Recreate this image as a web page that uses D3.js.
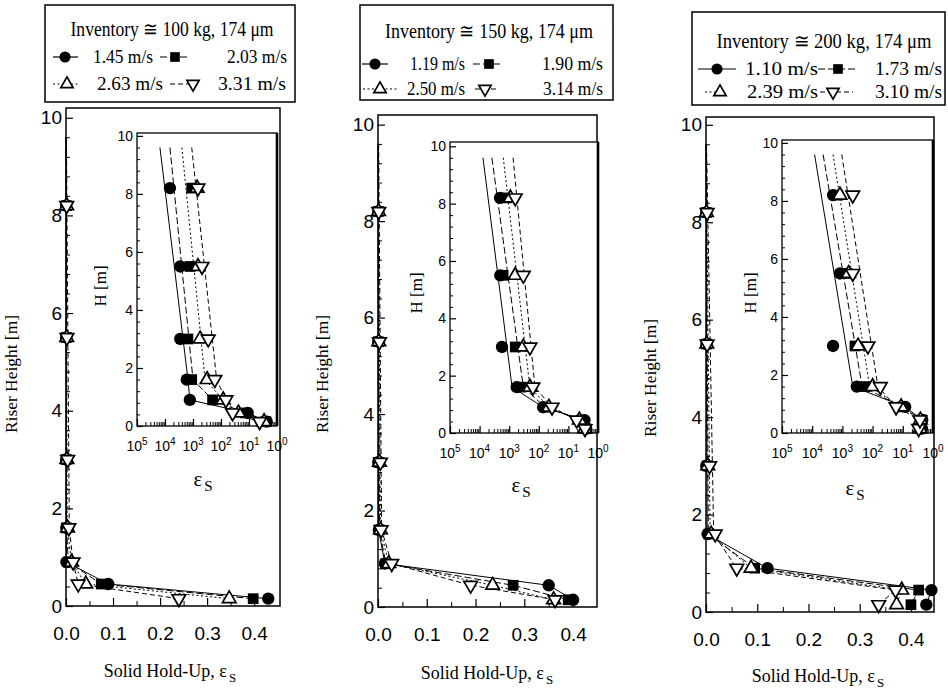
<!DOCTYPE html>
<html>
<head>
<meta charset="utf-8">
<script src="https://cdn.jsdelivr.net/npm/d3@7"></script>
<style>
  body { margin: 0; background: #fff; }
  svg { display: block; }
</style>
</head>
<body>
<svg id="chart" width="948" height="693"></svg>
<script>
// ---- data ----
const heights = [0.15, 0.45, 0.9, 1.6, 3.0, 5.5, 8.2];   // riser height of each probe [m]
const fitHeights = [9.6, 1.6];                           // ends of the fitted lines in the dilute zone
const inventories = ["100", "150", "200"];

const velocities100 = ["1.45", "2.03", "2.63", "3.31"];
const velocities150 = ["1.19", "1.90", "2.50", "3.14"];
const velocities200 = ["1.10", "1.73", "2.39", "3.10"];

// solid hold-up per series, same order as heights
const holdup100 = [
  [0.43, 0.09, 7.7e-4, 6e-4, 3.5e-4, 3.5e-4, 1.5e-4],
  [0.398, 0.075, 5e-3, 9e-4, 6.6e-4, 7.8e-4, 9e-4],
  [0.347, 0.042, 0.012, 3.2e-3, 1.8e-3, 1.5e-3, 1.4e-3],
  [0.24, 0.026, 0.015, 6e-3, 3.5e-3, 2.1e-3, 1.5e-3]
];
const holdup150 = [
  [0.40, 0.35, 0.014, 1.8e-3, 5.7e-4, 5e-4, 4.9e-4],
  [0.39, 0.277, 0.016, 2.5e-3, 1.6e-3, 6.2e-4, 8e-4],
  [0.36, 0.235, 0.022, 5e-3, 3e-3, 1.6e-3, 1.1e-3],
  [0.363, 0.19, 0.028, 6.3e-3, 5e-3, 3e-3, 1.6e-3]
];
const holdup200 = [
  [0.43, 0.44, 0.12, 3e-3, 4.9e-4, 8.3e-4, 4.9e-4],
  [0.40, 0.415, 0.095, 5.6e-3, 2.6e-3, 1.4e-3, 7e-4],
  [0.372, 0.382, 0.088, 0.01, 3.3e-3, 1.6e-3, 8.3e-4],
  [0.337, 0.37, 0.06, 0.018, 7e-3, 2.2e-3, 2.2e-3]
];

// hold-up of the fitted lines at fitHeights (top, knee)
const fitTop100 = [6.6e-5, 1.5e-4, 4e-4, 9e-4];
const fitKnee100 = [6.6e-4, 1e-3, 2.7e-3, 7e-3];
const fitTop150 = [1.3e-4, 2.6e-4, 6.3e-4, 1.35e-3];
const fitKnee150 = [1.25e-3, 3e-3, 5e-3, 7.4e-3];
const fitTop200 = [1.2e-4, 2.3e-4, 4.9e-4, 9.5e-4];
const fitKnee200 = [2.2e-3, 4.5e-3, 8e-3, 0.015];

const heightTicks = [0, 2, 4, 6, 8, 10];
const holdupTicks = [0, 0.1, 0.2, 0.3, 0.4];
const logTicks = [1e-5, 1e-4, 1e-3, 1e-2, 1e-1, 1];
const logTickExp = ["5", "4", "3", "2", "1", "0"];   // printed without minus, as in the figure

// ---- styles ----
const SERIF = "'Liberation Serif', 'Times New Roman', serif";
const SANS = "'Liberation Sans', Arial, sans-serif";
const markerTypes = ["circle", "square", "triangle", "triangleDown"];
const dashes = [null, "7,3", "2,2.5", "5,3"];

// ---- layout of the three panels (pixels) ----
const layouts = [
  {
    main: { x0: 66, x1: 280, xMax: 0.455, y0: 606, y1: 108, yMax: 10.2 },
    inset: { x0: 137, x1: 277, y0: 426, y1: 133, yMax: 10.1 },
    box: [45, 5, 295, 102], title: { x: 172, y: 36, len: 203 }, rows: [63, 90],
    items: [
      { l: [53, 78], m: 65, t: 93, len: 60 }, { l: [160, 190], m: 175, t: 227, len: 60 },
      { l: [53, 78], m: 67, t: 97, len: 66 }, { l: [170, 198], m: 193, t: 218, len: 68 }
    ],
    yTitle: { x: 17, y: 374 }, hTitle: { x: 106, y: 286 }, xTitle: { x: 170, y: 677 }, epsLabel: { x: 203, y: 486 }
  },
  {
    main: { x0: 378, x1: 597, xMax: 0.449, y0: 607, y1: 115, yMax: 10.2 },
    inset: { x0: 450, x1: 598, y0: 433, y1: 142, yMax: 10.15 },
    box: [360, 5, 613, 100], title: { x: 489, y: 38, len: 208 }, rows: [70, 95],
    items: [
      { l: [362, 388], m: 375, t: 410, len: 55 }, { l: [473, 500], m: 489, t: 542, len: 61 },
      { l: [363, 397], m: 380, t: 407, len: 58 }, { l: [475, 496], m: 485, t: 543, len: 60 }
    ],
    yTitle: { x: 328, y: 374 }, hTitle: { x: 422, y: 293 }, xTitle: { x: 487, y: 679 }, epsLabel: { x: 521, y: 492 }
  },
  {
    main: { x0: 706, x1: 934, xMax: 0.445, y0: 612, y1: 117, yMax: 10.16 },
    inset: { x0: 782, x1: 933, y0: 433, y1: 140, yMax: 10.1 },
    box: [692, 12, 945, 105], title: { x: 824, y: 48, len: 215 }, rows: [75, 98],
    items: [
      { l: [698, 736], m: 717, t: 745, len: 73 }, { l: [818, 856], m: 838, t: 875, len: 67 },
      { l: [705, 727], m: 720, t: 747, len: 71 }, { l: [820, 853], m: 833, t: 875, len: 67 }
    ],
    yTitle: { x: 656, y: 378 }, hTitle: { x: 756, y: 293 }, xTitle: { x: 818, y: 682 }, epsLabel: { x: 855, y: 495 }
  }
];

const panels = [
  { inv: inventories[0], vel: velocities100, eps: holdup100, top: fitTop100, knee: fitKnee100 },
  { inv: inventories[1], vel: velocities150, eps: holdup150, top: fitTop150, knee: fitKnee150 },
  { inv: inventories[2], vel: velocities200, eps: holdup200, top: fitTop200, knee: fitKnee200 }
];

const svg = d3.select("#chart");

function drawMarker(g, type, x, y, scale) {
  const s = scale || 1;
  let sym;
  if (type === "circle") sym = d3.symbol(d3.symbolCircle, 120 * s * s);
  else if (type === "square") sym = d3.symbol(d3.symbolSquare, 115 * s * s);
  else sym = d3.symbol(d3.symbolTriangle, 80 * s * s);
  const p = g.append("path")
    .attr("d", sym())
    .attr("transform", `translate(${x},${y})` + (type === "triangleDown" ? " rotate(180)" : ""));
  if (type === "circle" || type === "square") p.attr("fill", "#000");
  else p.attr("fill", "#fff").attr("stroke", "#000").attr("stroke-width", 1.7);
}

function seriesPath(p, s) {
  // fitted line in the dilute zone, then measured points below the knee
  return [
    [p.top[s], fitHeights[0]],
    [p.knee[s], fitHeights[1]],
    [p.eps[s][2], heights[2]],
    [p.eps[s][1], heights[1]],
    [p.eps[s][0], heights[0]]
  ];
}

function styleAxis(sel, family, size) {
  sel.attr("font-family", family).attr("font-size", size);
  sel.selectAll(".tick line").attr("stroke-width", 1.2);
  sel.selectAll(".tick text").attr("fill", "#000");
}

function minorRange(max, step, majorStep) {
  return d3.range(step, max, step).filter(v => Math.abs(v / majorStep - Math.round(v / majorStep)) > 1e-6);
}

// epsilon with a subscript S, as two separate texts placed side by side
function epsText(g, cx, y, prefix, size) {
  const main = g.append("text")
    .attr("y", y)
    .attr("font-family", SERIF).attr("font-size", size)
    .text(prefix + "\u03b5");
  const w = main.node().getComputedTextLength();
  const sub = g.append("text")
    .attr("y", y + 5)
    .attr("font-family", SERIF).attr("font-size", size * 0.72)
    .text("S");
  const ws = sub.node().getComputedTextLength();
  const x0 = cx - (w + ws + 2) / 2;
  main.attr("x", x0);
  sub.attr("x", x0 + w + 2);
}

function drawPanel(p, L) {
  const g = svg.append("g");

  // ---------- main plot ----------
  const x = d3.scaleLinear().domain([0, L.main.xMax]).range([L.main.x0, L.main.x1]);
  const y = d3.scaleLinear().domain([0, L.main.yMax]).range([L.main.y0, L.main.y1]);

  g.append("g")
    .attr("transform", `translate(${x(0)},0)`)
    .call(d3.axisLeft(y).tickValues(heightTicks).tickSize(-7).tickPadding(4).tickFormat(d3.format("d")))
    .call(s => s.select(".domain").remove())
    .call(s => styleAxis(s, SANS, 19));
  g.append("g")
    .attr("transform", `translate(${x(0)},0)`)
    .call(d3.axisLeft(y).tickValues(minorRange(10.01, 0.4, 2)).tickSize(-4).tickFormat(""))
    .call(s => s.select(".domain").remove());

  g.append("g")
    .attr("transform", `translate(0,${y(0)})`)
    .call(d3.axisBottom(x).tickValues(holdupTicks).tickSize(-8).tickPadding(21).tickFormat(d3.format(".1f")))
    .call(s => s.select(".domain").remove())
    .call(s => styleAxis(s, SANS, 19));
  g.append("g")
    .attr("transform", `translate(0,${y(0)})`)
    .call(d3.axisBottom(x).tickValues([0.05, 0.15, 0.25, 0.35]).tickSize(-5).tickFormat(""))
    .call(s => s.select(".domain").remove());

  g.append("rect")
    .attr("x", x(0)).attr("y", y(L.main.yMax))
    .attr("width", x(L.main.xMax) - x(0)).attr("height", y(0) - y(L.main.yMax))
    .attr("fill", "none").attr("stroke", "#000").attr("stroke-width", 1.5);

  const lineMain = d3.line().x(d => x(d[0])).y(d => y(d[1]));
  p.eps.forEach((e, s) => {
    g.append("path")
      .attr("d", lineMain(seriesPath(p, s)))
      .attr("fill", "none").attr("stroke", "#000").attr("stroke-width", 1)
      .attr("stroke-dasharray", dashes[s]);
  });
  p.eps.forEach((e, s) => {
    heights.forEach((h, i) => drawMarker(g, markerTypes[s], x(e[i]), y(h)));
  });

  // ---------- inset (log scale) ----------
  const xl = d3.scaleLog().domain([1e-5, 1]).range([L.inset.x0, L.inset.x1]);
  const yi = d3.scaleLinear().domain([0, L.inset.yMax]).range([L.inset.y0, L.inset.y1]);

  g.append("rect")
    .attr("x", xl(1e-5)).attr("y", yi(L.inset.yMax))
    .attr("width", xl(1) - xl(1e-5)).attr("height", yi(0) - yi(L.inset.yMax))
    .attr("fill", "#fff").attr("stroke", "#000").attr("stroke-width", 1.3);
  g.append("line")
    .attr("x1", xl(1)).attr("x2", xl(1)).attr("y1", yi(L.inset.yMax)).attr("y2", yi(0))
    .attr("stroke", "#000").attr("stroke-width", 2.6);

  g.append("g")
    .attr("transform", `translate(${xl(1e-5)},0)`)
    .call(d3.axisLeft(yi).tickValues(heightTicks).tickSize(-6).tickPadding(4).tickFormat(d3.format("d")))
    .call(s => s.select(".domain").remove())
    .call(s => styleAxis(s, SANS, 14));
  g.append("g")
    .attr("transform", `translate(${xl(1e-5)},0)`)
    .call(d3.axisLeft(yi).tickValues(minorRange(10.01, 0.4, 2)).tickSize(-3).tickFormat(""))
    .call(s => s.select(".domain").remove());

  const logMinor = [];
  d3.range(-5, 0).forEach(k => d3.range(2, 10).forEach(m => logMinor.push(m * Math.pow(10, k))));
  g.append("g")
    .attr("transform", `translate(0,${yi(0)})`)
    .call(d3.axisBottom(xl).tickValues(logTicks).tickSize(-7).tickFormat(""))
    .call(s => s.select(".domain").remove())
    .call(s => s.selectAll(".tick line").attr("stroke-width", 1.2));
  g.append("g")
    .attr("transform", `translate(0,${yi(0)})`)
    .call(d3.axisBottom(xl).tickValues(logMinor).tickSize(-4).tickFormat(""))
    .call(s => s.select(".domain").remove());

  const logLabels = g.append("g").attr("font-family", SANS).attr("font-size", 14);
  logTicks.forEach((v, i) => {
    const t = logLabels.append("text")
      .attr("x", xl(v)).attr("y", yi(0) + 25)
      .attr("text-anchor", "middle");
    t.append("tspan").text("10");
    t.append("tspan").attr("dy", -6).attr("font-size", 10).text(logTickExp[i]);
  });

  const lineInset = d3.line().x(d => xl(d[0])).y(d => yi(d[1]));
  p.eps.forEach((e, s) => {
    g.append("path")
      .attr("d", lineInset(seriesPath(p, s)))
      .attr("fill", "none").attr("stroke", "#000").attr("stroke-width", 1)
      .attr("stroke-dasharray", dashes[s]);
  });
  p.eps.forEach((e, s) => {
    heights.forEach((h, i) => drawMarker(g, markerTypes[s], xl(e[i]), yi(h)));
  });

  // ---------- titles ----------
  g.append("text")
    .attr("transform", `translate(${L.yTitle.x},${L.yTitle.y}) rotate(-90)`)
    .attr("text-anchor", "middle").attr("font-family", SERIF).attr("font-size", 17)
    .attr("textLength", 118).attr("lengthAdjust", "spacingAndGlyphs")
    .text("Riser Height  [m]");

  g.append("text")
    .attr("transform", `translate(${L.hTitle.x},${L.hTitle.y}) rotate(-90)`)
    .attr("text-anchor", "middle").attr("font-family", SERIF).attr("font-size", 17)
    .text("H [m]");

  epsText(g, L.xTitle.x, L.xTitle.y, "Solid Hold-Up, ", 18);
  epsText(g, L.epsLabel.x, L.epsLabel.y, "", 21);

  // ---------- legend box ----------
  const [bx0, by0, bx1, by1] = L.box;
  g.append("rect")
    .attr("x", bx0).attr("y", by0).attr("width", bx1 - bx0).attr("height", by1 - by0)
    .attr("fill", "#fff").attr("stroke", "#000").attr("stroke-width", 1.5);
  g.append("text")
    .attr("x", L.title.x).attr("y", L.title.y)
    .attr("text-anchor", "middle").attr("font-family", SERIF).attr("font-size", 20)
    .attr("textLength", L.title.len).attr("lengthAdjust", "spacingAndGlyphs")
    .text(`Inventory \u2245 ${p.inv} kg, 174 \u03bcm`);

  L.items.forEach((it, s) => {
    const ry = L.rows[Math.floor(s / 2)];
    const cy = ry - 6;
    g.append("line")
      .attr("x1", it.l[0]).attr("x2", it.l[1]).attr("y1", cy).attr("y2", cy)
      .attr("stroke", "#000").attr("stroke-width", 1.2)
      .attr("stroke-dasharray", dashes[s]);
    drawMarker(g, markerTypes[s], it.m, cy, 0.9);
    g.append("text")
      .attr("x", it.t).attr("y", ry)
      .attr("font-family", SERIF).attr("font-size", 19)
      .attr("textLength", it.len).attr("lengthAdjust", "spacingAndGlyphs")
      .text(`${p.vel[s]} m/s`);
  });
}

panels.forEach((p, i) => drawPanel(p, layouts[i]));
</script>
</body>
</html>
